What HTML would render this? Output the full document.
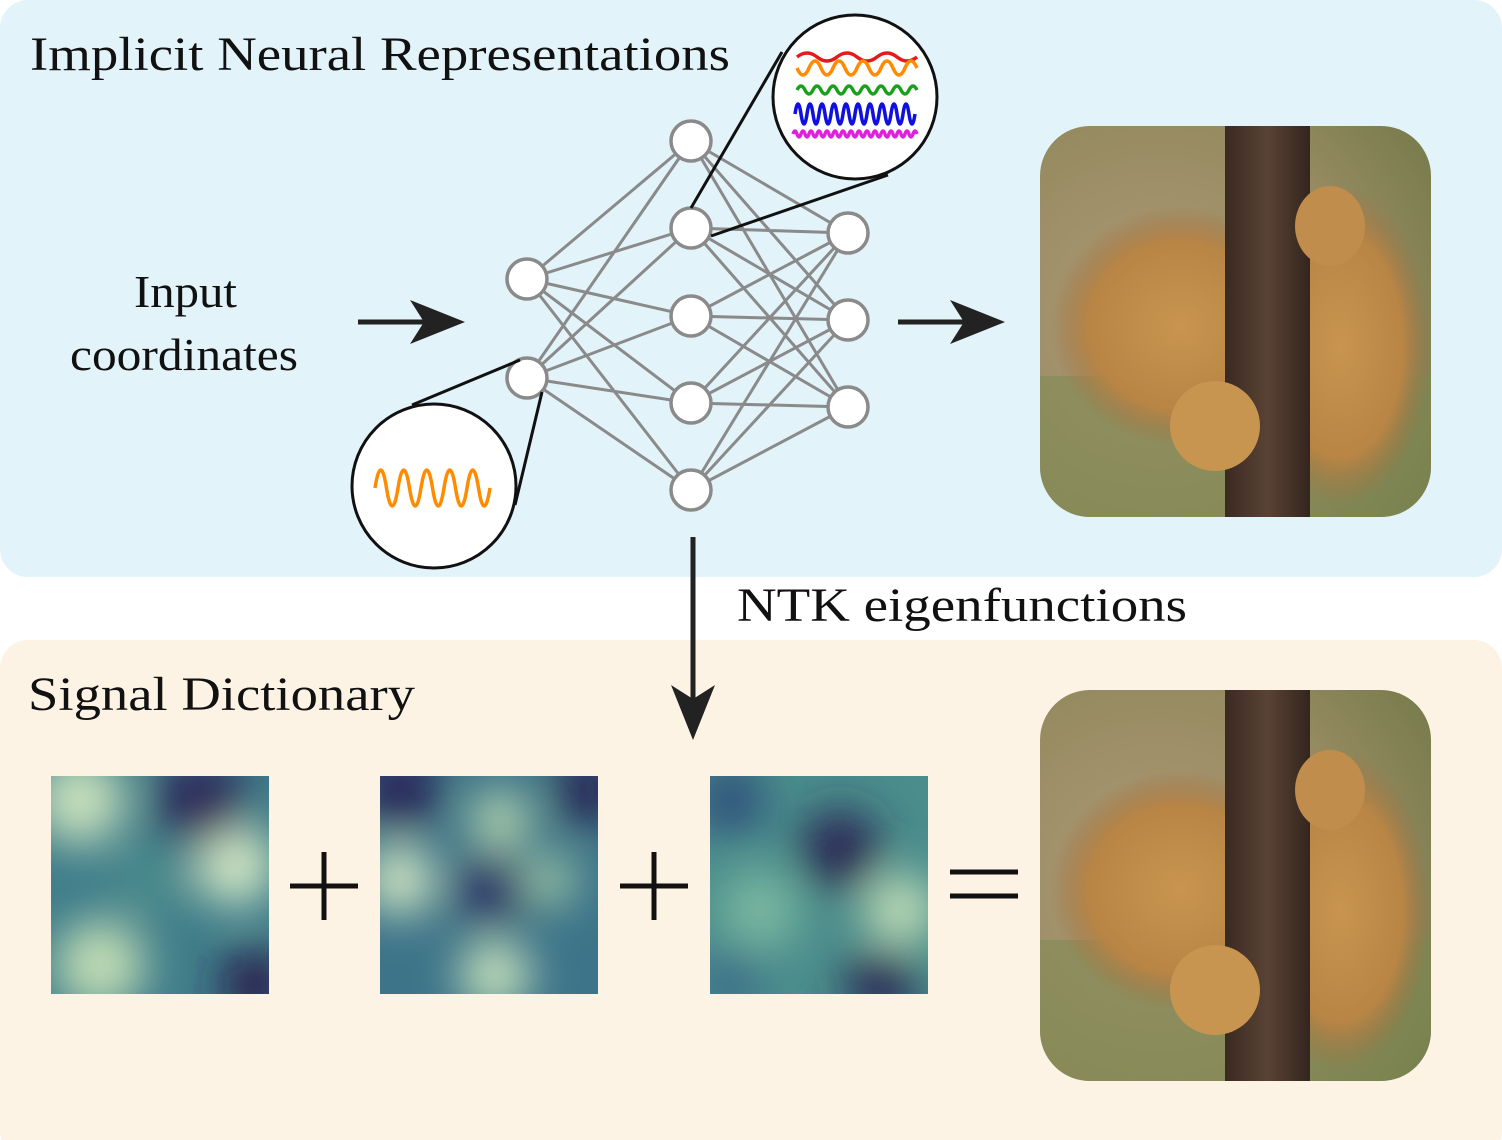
<!DOCTYPE html>
<html><head><meta charset="utf-8"><style>
html,body{margin:0;padding:0;background:#fff;}
body{width:1502px;height:1140px;position:relative;overflow:hidden;font-family:"Liberation Serif",serif;}
</style></head><body>
<svg width="1502" height="1140" viewBox="0 0 1502 1140" xmlns="http://www.w3.org/2000/svg" style="position:absolute;left:0;top:0">
<defs>
<clipPath id="c1"><rect x="1040" y="126" width="391" height="391" rx="50"/></clipPath>
<clipPath id="c2"><rect x="1040" y="690" width="391" height="391" rx="50"/></clipPath>
<radialGradient id="bg1" cx="0.3" cy="0.5" r="0.9"><stop offset="0" stop-color="#b09a78"/><stop offset="0.6" stop-color="#958a60"/><stop offset="1" stop-color="#707848"/></radialGradient>
<radialGradient id="lion" cx="0.5" cy="0.5" r="0.5"><stop offset="0" stop-color="#c89550"/><stop offset="0.7" stop-color="#b88545"/><stop offset="1" stop-color="#a07040" stop-opacity="0"/></radialGradient>
<linearGradient id="tree" x1="0" x2="1"><stop offset="0" stop-color="#3a2a22"/><stop offset="0.5" stop-color="#5a4235"/><stop offset="1" stop-color="#33251e"/></linearGradient>
<g id="photo">
<rect x="0" y="0" width="391" height="391" fill="url(#bg1)"/>
<rect x="0" y="250" width="391" height="141" fill="#7a8a50" opacity="0.5"/>
<ellipse cx="140" cy="200" rx="130" ry="120" fill="url(#lion)"/>
<ellipse cx="300" cy="220" rx="90" ry="160" fill="url(#lion)"/>
<rect x="185" y="0" width="85" height="391" fill="url(#tree)"/>
<ellipse cx="175" cy="300" rx="45" ry="45" fill="#c89550"/>
<ellipse cx="290" cy="100" rx="35" ry="40" fill="#c08d4d"/>
</g>
</defs>
<rect x="0" y="0" width="1502" height="577" rx="28" fill="#e2f3fa"/>
<rect x="0" y="640" width="1502" height="520" rx="28" fill="#fdf3e5"/>
<text x="30" y="70" font-size="48" fill="#111" textLength="700" lengthAdjust="spacingAndGlyphs">Implicit Neural Representations</text>
<text x="28" y="710" font-size="48" fill="#111" textLength="387" lengthAdjust="spacingAndGlyphs">Signal Dictionary</text>
<text x="134" y="307" font-size="46" fill="#111" textLength="103" lengthAdjust="spacingAndGlyphs">Input</text>
<text x="70" y="370" font-size="46" fill="#111" textLength="228" lengthAdjust="spacingAndGlyphs">coordinates</text>
<text x="737" y="621" font-size="48" fill="#111" textLength="450" lengthAdjust="spacingAndGlyphs">NTK eigenfunctions</text>
<g stroke="#8a8a8a" stroke-width="3">
<path d="M527 279L691 141M527 279L691 228M527 279L691 316M527 279L691 403M527 279L691 490M527 378L691 141M527 378L691 228M527 378L691 316M527 378L691 403M527 378L691 490"/>
<path d="M691 141L848 233M691 141L848 320M691 141L848 407M691 228L848 233M691 228L848 320M691 228L848 407M691 316L848 233M691 316L848 320M691 316L848 407M691 403L848 233M691 403L848 320M691 403L848 407M691 490L848 233M691 490L848 320M691 490L848 407"/>
</g>
<g fill="#fff" stroke="#8a8a8a" stroke-width="3.5">
<circle cx="527" cy="279" r="20"/><circle cx="527" cy="378" r="20"/>
<circle cx="691" cy="141" r="20"/><circle cx="691" cy="228" r="20"/><circle cx="691" cy="316" r="20"/><circle cx="691" cy="403" r="20"/><circle cx="691" cy="490" r="20"/>
<circle cx="848" cy="233" r="20"/><circle cx="848" cy="320" r="20"/><circle cx="848" cy="407" r="20"/>
</g>
<g stroke="#111" stroke-width="3">
<line x1="691" y1="208" x2="782" y2="52"/>
<line x1="711" y1="236" x2="888" y2="175"/>
<line x1="520" y1="360" x2="412" y2="405"/>
<line x1="542" y1="392" x2="515" y2="505"/>
</g>
<circle cx="855" cy="97" r="82" fill="#fff" stroke="#111" stroke-width="3"/>
<circle cx="434" cy="486" r="82" fill="#fff" stroke="#111" stroke-width="3"/>
<g fill="none" stroke-width="3.5">
<path d="M797 57 q10 -8 20 0 t20 0 t20 0 t20 0 t20 0 t20 0" stroke="#e8191a"/>
<path d="M797 68 q6 14 12 0 t12 0 t12 0 t12 0 t12 0 t12 0 t12 0 t12 0 t12 0 t12 0" stroke="#ff8c00"/>
<path d="M797 90 q4 -8 8 0 t8 0 t8 0 t8 0 t8 0 t8 0 t8 0 t8 0 t8 0 t8 0 t8 0 t8 0 t8 0 t8 0 t8 0" stroke="#1aa01a"/>
<path d="M795 114 q3 -20 6 0 t6 0 t6 0 t6 0 t6 0 t6 0 t6 0 t6 0 t6 0 t6 0 t6 0 t6 0 t6 0 t6 0 t6 0 t6 0 t6 0 t6 0 t6 0 t6 0" stroke="#1010e0"/>
<path d="M793 134 q2 -6 4 0 t4 0 t4 0 t4 0 t4 0 t4 0 t4 0 t4 0 t4 0 t4 0 t4 0 t4 0 t4 0 t4 0 t4 0 t4 0 t4 0 t4 0 t4 0 t4 0 t4 0 t4 0 t4 0 t4 0 t4 0 t4 0 t4 0 t4 0 t4 0 t4 0 t4 0" stroke="#e020e0"/>
<path d="M375 488 q5.75 -36 11.5 0 t11.5 0 t11.5 0 t11.5 0 t11.5 0 t11.5 0 t11.5 0 t11.5 0 t11.5 0 t11.5 0" stroke="#ff8c00" stroke-width="3.5"/>
</g>
<g stroke="#222" stroke-width="5" fill="#222">
<line x1="358" y1="322" x2="430" y2="322"/>
<path d="M465 322 L410 300 L424 322 L410 344Z" stroke="none"/>
<line x1="898" y1="322" x2="970" y2="322"/>
<path d="M1005 322 L950 300 L964 322 L950 344Z" stroke="none"/>
<line x1="693" y1="537" x2="693" y2="705"/>
<path d="M693 740 L671 685 L693 699 L715 685Z" stroke="none"/>
</g>
<g clip-path="url(#c1)"><use href="#photo" x="1040" y="126"/></g>
<g clip-path="url(#c2)"><use href="#photo" x="1040" y="690"/></g>
<defs>
<filter id="bl"><feGaussianBlur stdDeviation="22"/></filter>
<clipPath id="h1"><rect x="51" y="776" width="218" height="218"/></clipPath>
<clipPath id="h2"><rect x="380" y="776" width="218" height="218"/></clipPath>
<clipPath id="h3"><rect x="710" y="776" width="218" height="218"/></clipPath>
</defs>
<g clip-path="url(#h1)"><rect x="51" y="776" width="218" height="218" fill="#3f7d8a"/>
<g filter="url(#bl)"><circle cx="80" cy="800" r="45" fill="#c8e0bc"/><circle cx="235" cy="865" r="40" fill="#d3e8c4"/><circle cx="100" cy="965" r="45" fill="#c0dcb4"/><circle cx="200" cy="800" r="45" fill="#2e2a5a"/><circle cx="255" cy="985" r="35" fill="#2a1f4c"/><circle cx="150" cy="880" r="30" fill="#4a8f8d"/></g></g>
<g clip-path="url(#h2)"><rect x="380" y="776" width="218" height="218" fill="#3d7489"/>
<g filter="url(#bl)"><circle cx="400" cy="790" r="40" fill="#2b2758"/><circle cx="590" cy="790" r="35" fill="#2a2552"/><circle cx="400" cy="880" r="35" fill="#d2e6c2"/><circle cx="500" cy="820" r="30" fill="#b8d8b0"/><circle cx="550" cy="880" r="25" fill="#a8d0a8"/><circle cx="490" cy="890" r="35" fill="#2e3566"/><circle cx="495" cy="975" r="35" fill="#c8e2bc"/></g></g>
<g clip-path="url(#h3)"><rect x="710" y="776" width="218" height="218" fill="#4a8d8c"/>
<g filter="url(#bl)"><circle cx="730" cy="800" r="35" fill="#2f4f7a"/><circle cx="840" cy="850" r="40" fill="#2a2552"/><circle cx="900" cy="910" r="35" fill="#c2dfb8"/><circle cx="760" cy="910" r="40" fill="#7ab8a0"/><circle cx="880" cy="985" r="35" fill="#2a2552"/><circle cx="730" cy="980" r="30" fill="#3a6a88"/></g></g>
<g stroke="#111" stroke-width="5">
<line x1="290" y1="886" x2="358" y2="886"/><line x1="324" y1="852" x2="324" y2="920"/>
<line x1="620" y1="886" x2="688" y2="886"/><line x1="654" y1="852" x2="654" y2="920"/>
<line x1="950" y1="872" x2="1018" y2="872"/><line x1="950" y1="896" x2="1018" y2="896"/>
</g>
</svg>
</body></html>
